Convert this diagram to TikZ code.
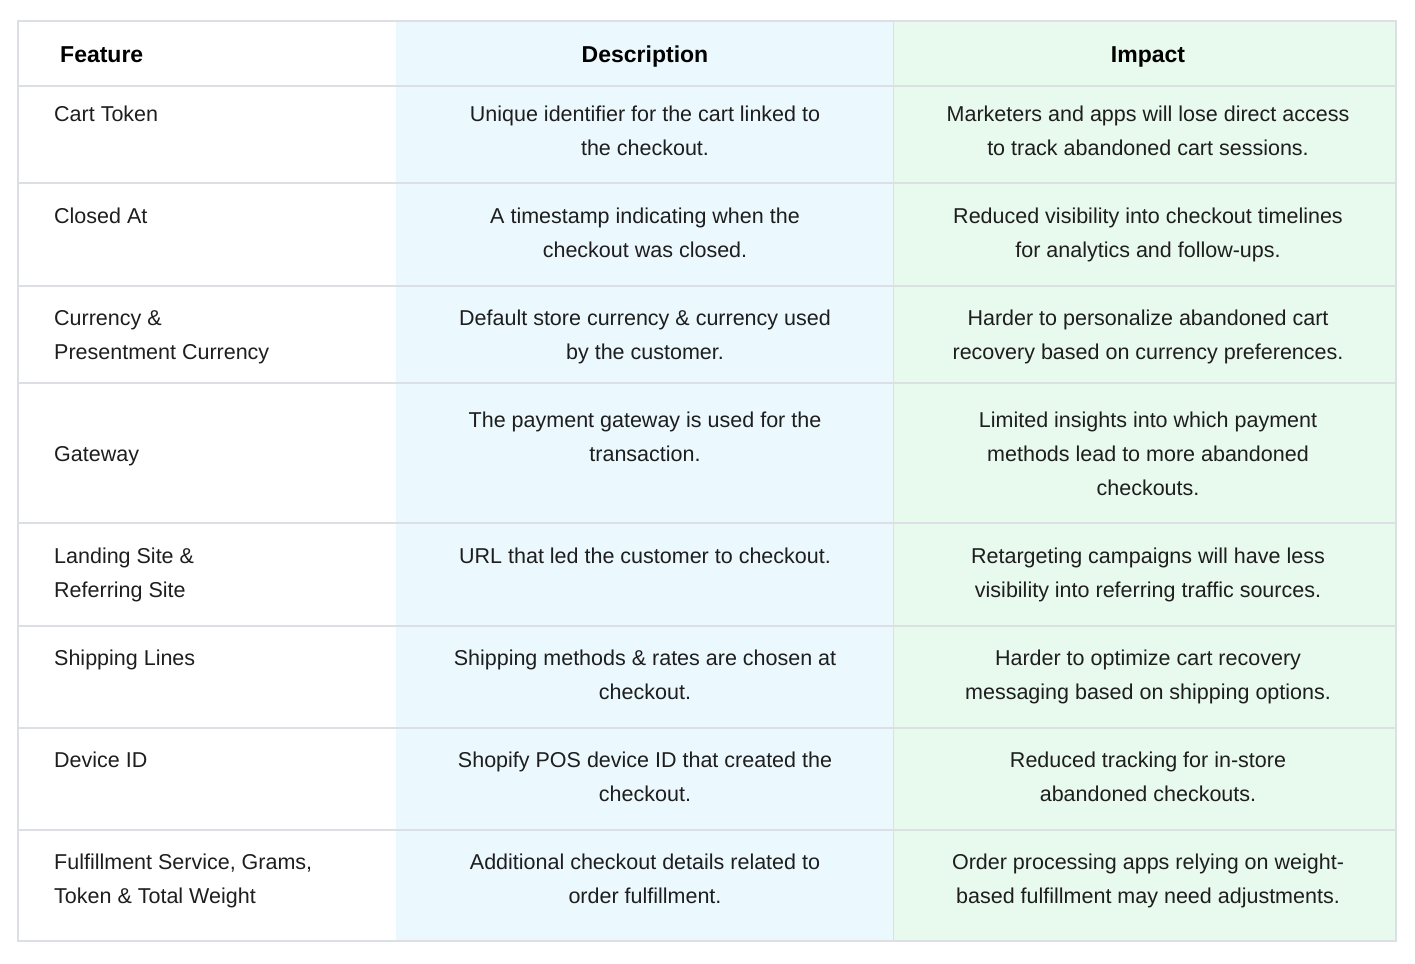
\documentclass[tikz,border=0pt]{standalone}
\usepackage{fontspec}
\setmainfont{Liberation Sans}
\definecolor{dcol}{HTML}{EBF8FE}
\definecolor{icol}{HTML}{E8F9EE}
\definecolor{gline}{HTML}{DCDFE3}
\definecolor{tcol}{HTML}{1E1E1E}
\begin{document}
\begin{tikzpicture}[x=1pt,y=-1pt,
  cell/.style={inner sep=0pt,align=center,anchor=north,text=tcol,font=\fontsize{21.5}{34}\selectfont},
  fcell/.style={cell,align=left,anchor=north west},
  head/.style={cell,font=\fontsize{23}{34}\selectfont\bfseries,text=black}]
\useasboundingbox (0,0) rectangle (1415,963);
\fill[white] (0,0) rectangle (1415,963);
\fill[dcol] (396,21) rectangle (893,941);
\fill[icol] (893,21) rectangle (1396,941);
\foreach \y in {86,183,286,383,523,626,728,830}
  \draw[gline,line width=1.2pt] (18,\y) -- (1396,\y);
\draw[gline,line width=1pt] (893,21) -- (893,941);
\draw[gline,line width=1.2pt] (18,21) rectangle (1396,941);
\newcommand{\s}{\rule{0pt}{24pt}}
\node[head,anchor=north west] (h1) at (60,38) {\s Feature};
\node[head] (h2) at (645,38) {\s Description};
\node[head] (h3) at (1148,38) {\s Impact};
\node[fcell] (f1) at (54,97) {\s Cart Token};
\node[cell] (d1) at (645,97) {\s Unique identifier for the cart linked to\\the checkout.};
\node[cell] (i1) at (1148,97) {\s Marketers and apps will lose direct access\\to track abandoned cart sessions.};
\node[fcell] (f2) at (54,199) {\s Closed At};
\node[cell] (d2) at (645,199) {\s A timestamp indicating when the\\checkout was closed.};
\node[cell] (i2) at (1148,199) {\s Reduced visibility into checkout timelines\\for analytics and follow-ups.};
\node[fcell] (f3) at (54,301) {\s Currency \&\\Presentment Currency};
\node[cell] (d3) at (645,301) {\s Default store currency \& currency used\\by the customer.};
\node[cell] (i3) at (1148,301) {\s Harder to personalize abandoned cart\\recovery based on currency preferences.};
\node[fcell] (f4) at (54,437) {\s Gateway};
\node[cell] (d4) at (645,403) {\s The payment gateway is used for the\\transaction.};
\node[cell] (i4) at (1148,403) {\s Limited insights into which payment\\methods lead to more abandoned\\checkouts.};
\node[fcell] (f5) at (54,539) {\s Landing Site \&\\Referring Site};
\node[cell] (d5) at (645,539) {\s URL that led the customer to checkout.};
\node[cell] (i5) at (1148,539) {\s Retargeting campaigns will have less\\visibility into referring traffic sources.};
\node[fcell] (f6) at (54,641) {\s Shipping Lines};
\node[cell] (d6) at (645,641) {\s Shipping methods \& rates are chosen at\\checkout.};
\node[cell] (i6) at (1148,641) {\s Harder to optimize cart recovery\\messaging based on shipping options.};
\node[fcell] (f7) at (54,743) {\s Device ID};
\node[cell] (d7) at (645,743) {\s Shopify POS device ID that created the\\checkout.};
\node[cell] (i7) at (1148,743) {\s Reduced tracking for in-store\\abandoned checkouts.};
\node[fcell] (f8) at (54,845) {\s Fulfillment Service, Grams,\\Token \& Total Weight};
\node[cell] (d8) at (645,845) {\s Additional checkout details related to\\order fulfillment.};
\node[cell] (i8) at (1148,845) {\s Order processing apps relying on weight-\\based fulfillment may need adjustments.};
\end{tikzpicture}
\end{document}
